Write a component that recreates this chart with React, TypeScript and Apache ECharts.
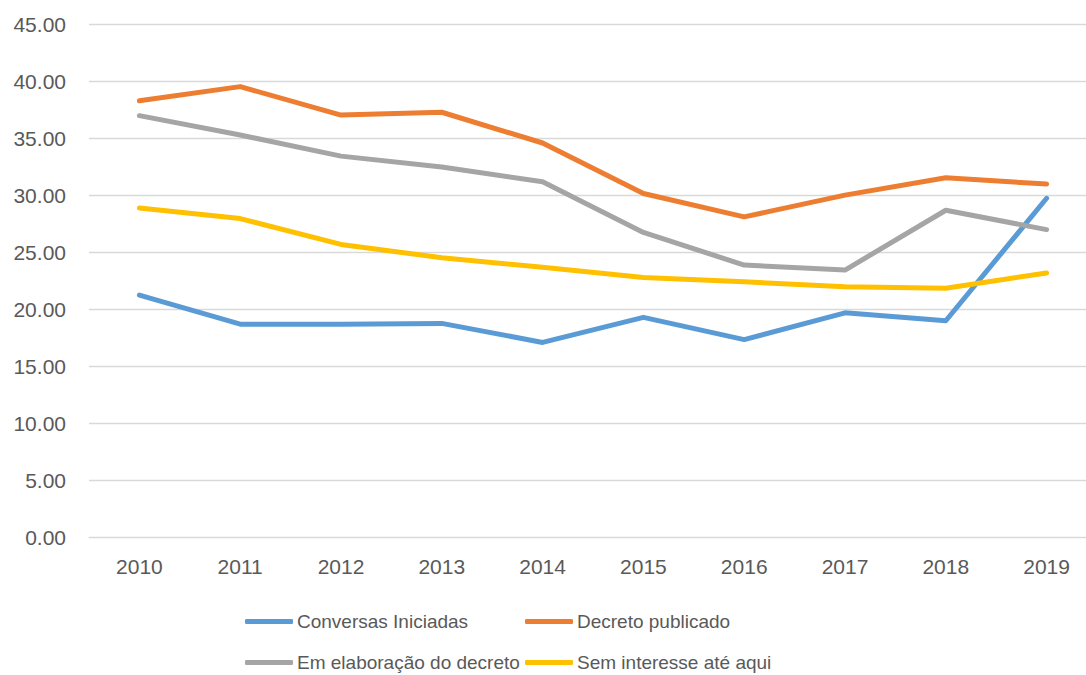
import React, { useEffect, useRef } from "react";
import * as echarts from "echarts";

const categories = ["2010", "2011", "2012", "2013", "2014", "2015", "2016", "2017", "2018", "2019"];
const conversasIniciadas = [21.25, 18.7, 18.7, 18.77, 17.1, 19.3, 17.35, 19.7, 19.0, 29.75];
const decretoPublicado = [38.3, 39.55, 37.05, 37.3, 34.6, 30.17, 28.12, 30.03, 31.55, 31.0];
const emElaboracao = [37.0, 35.3, 33.45, 32.5, 31.2, 26.75, 23.89, 23.45, 28.7, 27.0];
const semInteresse = [28.9, 27.97, 25.7, 24.53, 23.7, 22.8, 22.42, 21.98, 21.85, 23.2];

const seriesNames = [
  "Conversas Iniciadas",
  "Decreto publicado",
  "Em elaboração do decreto",
  "Sem interesse até aqui",
];
const seriesColors = ["#5B9BD5", "#ED7D31", "#A5A5A5", "#FFC000"];
const seriesData = [conversasIniciadas, decretoPublicado, emElaboracao, semInteresse];

const FONT = "'Liberation Sans', Arial, sans-serif";

export default function App() {
  const ref = useRef<HTMLDivElement>(null);
  useEffect(() => {
    if (!ref.current) return;
    const chart = echarts.init(ref.current, undefined, { renderer: "svg" });
    const legendPos = [
      { left: 245, top: 612 },
      { left: 525, top: 612 },
      { left: 245, top: 653 },
      { left: 525, top: 653 },
    ];
    chart.setOption({
      animation: false,
      backgroundColor: "#ffffff",
      grid: {
        left: 89,
        right: -11,
        top: 24.5,
        bottom: 137.7,
        containLabel: false,
        outerBoundsMode: "none",
      },
      xAxis: {
        type: "category",
        data: categories,
        boundaryGap: true,
        axisLine: { show: true, lineStyle: { color: "#D9D9D9", width: 1 } },
        axisTick: { show: false },
        axisLabel: { color: "#595959", fontSize: 21, fontFamily: FONT, margin: 19 },
      },
      yAxis: {
        type: "value",
        min: 0,
        max: 45,
        interval: 5,
        axisLine: { show: false },
        axisTick: { show: false },
        splitLine: { lineStyle: { color: "#D9D9D9", width: 1.3 } },
        axisLabel: {
          color: "#595959",
          fontSize: 21,
          fontFamily: FONT,
          margin: 23,
          formatter: (v: number) => v.toFixed(2),
        },
      },
      legend: seriesNames.map((name, i) => ({
        data: [name],
        left: legendPos[i].left,
        top: legendPos[i].top,
        padding: 0,
        itemWidth: 48,
        itemHeight: 5,
        icon: "roundRect",
        itemGap: 0,
        selectedMode: false,
        textStyle: { color: "#595959", fontSize: 19, fontFamily: FONT, padding: [0, 0, 0, -1] },
      })),
      series: seriesNames.map((name, i) => ({
        name,
        type: "line",
        data: seriesData[i],
        symbol: "none",
        smooth: false,
        lineStyle: { color: seriesColors[i], width: 5, cap: "round", join: "round" },
        itemStyle: { color: seriesColors[i] },
      })),
    });
    return () => chart.dispose();
  }, []);
  return (
    <div style={{ position: "absolute", left: 0, top: 0, width: 1086, height: 675, overflow: "hidden", background: "#fff" }}>
      <div ref={ref} style={{ width: 1086, height: 675 }} />
    </div>
  );
}
